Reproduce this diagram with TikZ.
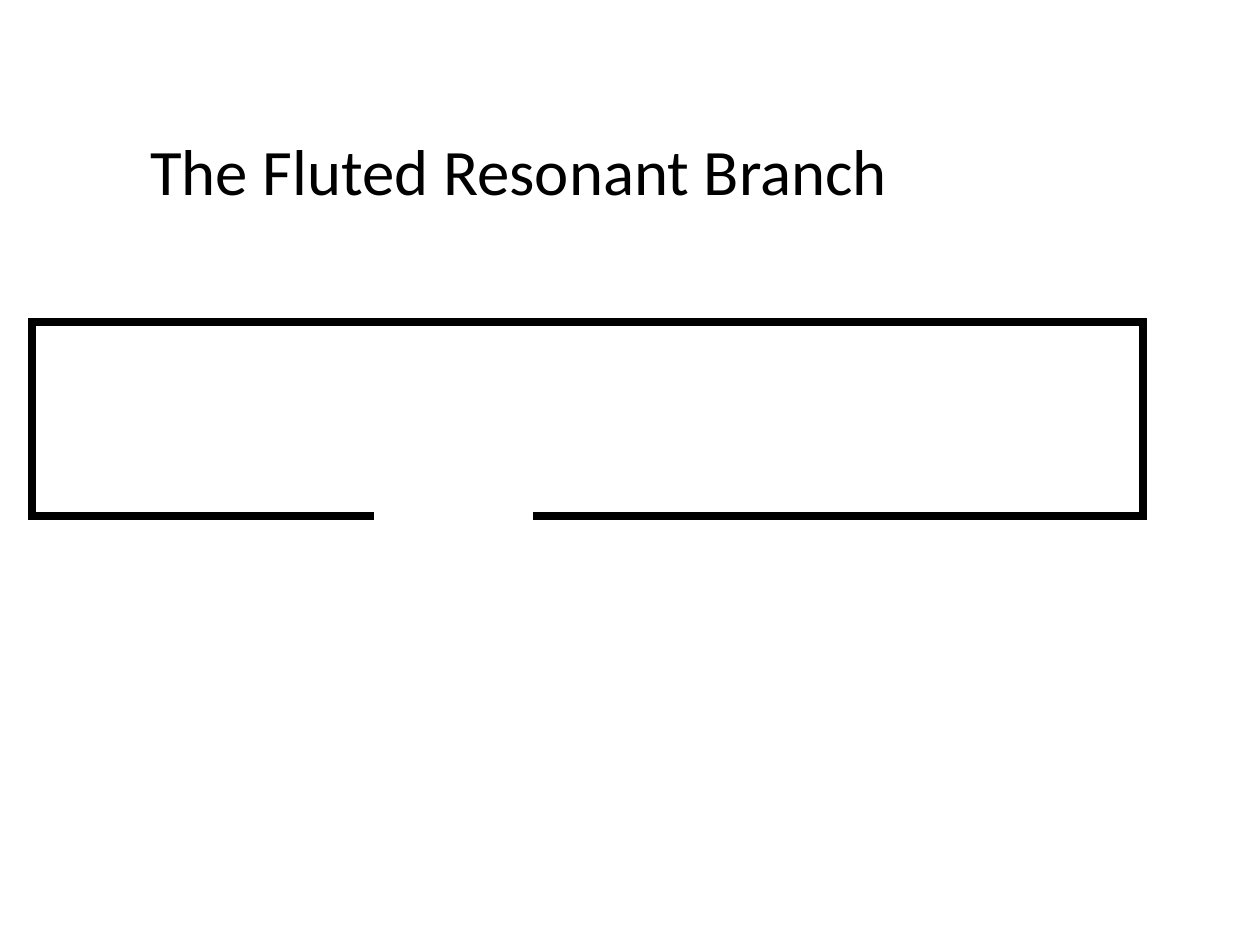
\documentclass[tikz,border=0pt]{standalone}
\usepackage{fontspec}
\setmainfont{Carlito}
\begin{document}
\begin{tikzpicture}[x=1pt,y=-1pt,
  wall/.style={line width=8pt,line cap=rect,line join=miter,black},
  title/.style={font=\fontsize{64.8}{70}\selectfont,inner sep=0pt,anchor=base west}]
\useasboundingbox[fill=white] (0,0) rectangle (1239,929);
\node[title] (t) at (150,195) {The Fluted Resonant Branch};
\coordinate (gl) at (370,516);
\coordinate (bl) at (32,516);
\coordinate (tl) at (32,322);
\coordinate (tr) at (1143,322);
\coordinate (br) at (1143,516);
\coordinate (gr) at (537,516);
\draw[wall] (gl) -- (bl) -- (tl) -- (tr) -- (br) -- (gr);
\end{tikzpicture}
\end{document}
